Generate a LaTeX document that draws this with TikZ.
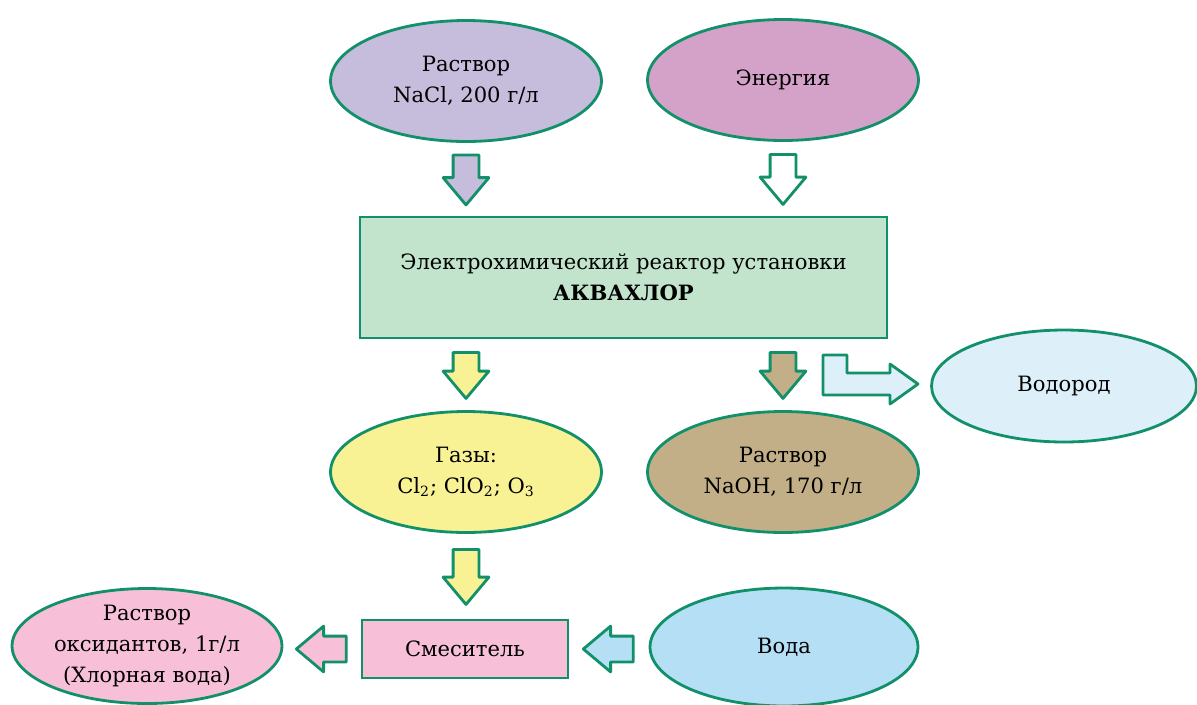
\documentclass[tikz,border=0pt]{standalone}
\usepackage{fontspec}
\setmainfont{DejaVu Serif}
\usetikzlibrary{shapes.geometric,shapes.arrows,calc}
\definecolor{edge}{HTML}{12906A}
\definecolor{naclc}{HTML}{C6BCDC}
\definecolor{energyc}{HTML}{D4A2C8}
\definecolor{reactorc}{HTML}{C2E4CC}
\definecolor{gasc}{HTML}{F8F294}
\definecolor{naohc}{HTML}{C2AF88}
\definecolor{hydroc}{HTML}{DDEFF9}
\definecolor{waterc}{HTML}{B4DFF4}
\definecolor{pinkc}{HTML}{F7C0D8}
\tikzset{oval/.style={ellipse,draw=edge,line width=1.6pt,minimum width=5.42cm,minimum height=2.42cm,align=center,inner sep=0pt,font=\fontsize{12}{17.5}\selectfont},}
\tikzset{box/.style={rectangle,draw=edge,line width=1.6pt,align=center,font=\fontsize{12}{17.5}\selectfont},}
\tikzset{blockarrow/.style={single arrow,draw=edge,line width=1.6pt,line join=round,minimum height=1cm,minimum width=0.86cm,single arrow head extend=0.2cm,single arrow tip angle=80,inner sep=0.23cm},}
\tikzset{down/.style={blockarrow,shape border rotate=270,yshift=0.14cm}}
\tikzset{leftward/.style={blockarrow,shape border rotate=180,xshift=0.14cm}}

\begin{document}
\begin{tikzpicture}[x=0.02cm,y=-0.02cm]
\useasboundingbox (0,0) rectangle (1197,704);
\node[oval,fill=naclc] (nacl) at (466,81) {Раствор\\NaCl, 200 г/л};
\node[oval,fill=energyc] (energy) at (783,80) {Энергия};
\node[box,fill=reactorc,minimum width=10.54cm,minimum height=2.42cm] (reactor) at (623.5,277.5) {Электрохимический реактор установки\\\textbf{АКВАХЛОР}};
\node[oval,fill=gasc] (gas) at (466,472) {Газы:\\Cl\textsubscript{2}; ClO\textsubscript{2}; O\textsubscript{3}};
\node[oval,fill=naohc] (naoh) at (783,472) {Раствор\\NaOH, 170 г/л};
\node[oval,fill=hydroc,minimum width=5.3cm,minimum height=2.24cm] (hydro) at (1064,386) {Водород};
\node[box,fill=pinkc,minimum width=4.12cm,minimum height=1.16cm] (mixer) at (465,649) {Смеситель};
\node[oval,fill=waterc,minimum width=5.36cm,minimum height=2.36cm] (water) at (784,647) {Вода};
\node[oval,fill=pinkc,minimum width=5.4cm,minimum height=2.3cm] (oxid) at (147,646) {Раствор\\оксидантов, 1г/л\\(Хлорная вода)};
\node[down,fill=naclc] (a1) at ($(nacl.south)!0.5!(nacl.south |- reactor.north)$) {};
\node[down,fill=white] (a2) at ($(energy.south)!0.5!(energy.south |- reactor.north)$) {};
\node[down,fill=gasc,minimum height=0.92cm] (a3) at ($(gas.north |- reactor.south)!0.5!(gas.north)$) {};
\node[down,fill=naohc,minimum height=0.92cm] (a4) at ($(naoh.north |- reactor.south)!0.5!(naoh.north)$) {};
\node[down,fill=gasc,minimum height=1.1cm] (a5) at ($(gas.south)!0.5!(gas.south |- mixer.north)$) {};
\node[leftward,fill=pinkc] (a6) at ($(mixer.west)!0.5!(oxid.east |- mixer.west)$) {};
\node[leftward,fill=waterc] (a7) at ($(water.west |- mixer.east)!0.5!(mixer.east)$) {};
\draw[draw=edge,fill=hydroc,line width=1.6pt,line join=round] (823,355) -- (847,355) -- (847,373) -- (890,373) -- (890,364) -- (918,384) -- (890,404) -- (890,395) -- (823,395) -- cycle;
\end{tikzpicture}
\end{document}
